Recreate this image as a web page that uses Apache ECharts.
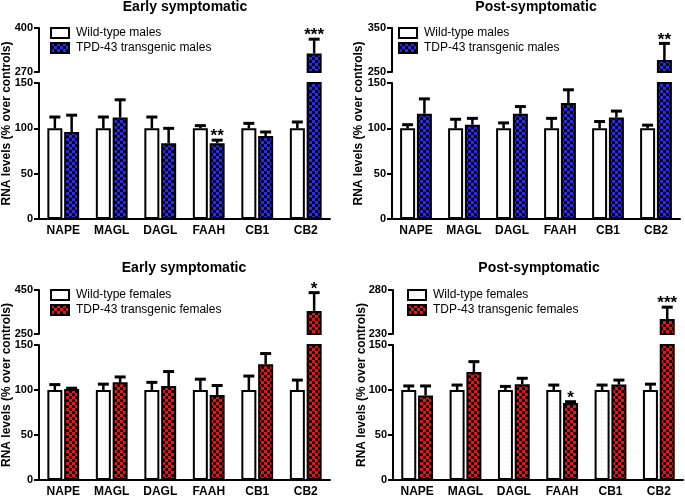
<!DOCTYPE html>
<html>
<head>
<meta charset="utf-8">
<script src="https://cdn.jsdelivr.net/npm/echarts@6/dist/echarts.min.js"></script>
<style>
  html, body { margin: 0; padding: 0; background: #fff; }
  #chart { width: 685px; height: 496px; }
</style>
</head>
<body>
<div id="chart"></div>
<script>
const categories = ['NAPE', 'MAGL', 'DAGL', 'FAAH', 'CB1', 'CB2']

// males, early symptomatic
const maleEarlyWt = [100, 100, 100, 100, 100, 100]
const maleEarlyWtErr = [112.5, 112.5, 112.5, 103, 105.5, 107]
const maleEarlyTg = [96, 112, 83.5, 83.5, 91.5, 325]
const maleEarlyTgErr = [114.5, 131.5, 100, 87, 96, 367]
const maleEarlySig = ['', '', '', '**', '', '***']
const maleEarlyBreak = [270, 400]

// males, post-symptomatic
const malePostWt = [100, 100, 100, 100, 100, 100]
const malePostWtErr = [104, 110, 106, 111, 107.5, 103.5]
const malePostTg = [116, 104, 116, 128, 112, 277]
const malePostTgErr = [132.5, 111, 124, 142.5, 119, 315]
const malePostSig = ['', '', '', '', '', '**']
const malePostBreak = [250, 350]

// females, early symptomatic
const femaleEarlyWt = [100, 100, 100, 100, 100, 100]
const femaleEarlyWtErr = [106, 106.5, 108.5, 112, 115.5, 111]
const femaleEarlyTg = [101, 108.5, 104.5, 94.5, 128.5, 355]
const femaleEarlyTgErr = [102, 114.5, 120.5, 105, 140.5, 438]
const femaleEarlySig = ['', '', '', '', '', '*']
const femaleEarlyBreak = [250, 450]

// females, post-symptomatic
const femalePostWt = [100, 100, 100, 100, 100, 100]
const femalePostWtErr = [104.5, 105.5, 104, 105.5, 105.5, 106.5]
const femalePostTg = [94, 120, 106.5, 85.5, 106, 247]
const femalePostTgErr = [104.5, 131.5, 113, 87, 111, 260.5]
const femalePostSig = ['', '', '', '*', '', '***']
const femalePostBreak = [230, 280]

const lowerRange = [0, 150]
const lowerStep = 50

const FONT = 'Liberation Sans, Arial, Helvetica, sans-serif'
const BAR_W = 15
const BAR_GAP = 0.12
const CAP_W = 11

// 棋盘格填充
function checker (fg, bg, cell) {
  const c = document.createElement('canvas')
  c.width = cell * 2
  c.height = cell * 2
  const ctx = c.getContext('2d')
  ctx.fillStyle = bg
  ctx.fillRect(0, 0, c.width, c.height)
  ctx.fillStyle = fg
  ctx.fillRect(0, 0, cell, cell)
  ctx.fillRect(cell, cell, cell, cell)
  return { image: c, repeat: 'repeat' }
}

function dotted () {
  const c = document.createElement('canvas')
  c.width = 4
  c.height = 4
  const ctx = c.getContext('2d')
  ctx.fillStyle = '#fff'
  ctx.fillRect(0, 0, 4, 4)
  ctx.fillStyle = '#ececec'
  ctx.fillRect(1, 1, 1, 1)
  return { image: c, repeat: 'repeat' }
}

const panels = [
  {
    title: 'Early symptomatic', wtName: 'Wild-type males', tgName: 'TPD-43 transgenic males',
    wt: maleEarlyWt, wtErr: maleEarlyWtErr, tg: maleEarlyTg, tgErr: maleEarlyTgErr, sig: maleEarlySig,
    brk: maleEarlyBreak, fill: checker('#2a2af5', '#000', 3),
    left: 39, right: 330, top: 28, brkY: 72, lowTop: 83, bottom: 219,
    titleX: 185, titleY: 7, nameX: 7, legendLeft: 50
  },
  {
    title: 'Post-symptomatic', wtName: 'Wild-type males', tgName: 'TDP-43 transgenic males',
    wt: malePostWt, wtErr: malePostWtErr, tg: malePostTg, tgErr: malePostTgErr, sig: malePostSig,
    brk: malePostBreak, fill: checker('#2a2af5', '#000', 3),
    left: 392, right: 680, top: 28, brkY: 72, lowTop: 83, bottom: 219,
    titleX: 536, titleY: 7, nameX: 359, legendLeft: 398
  },
  {
    title: 'Early symptomatic', wtName: 'Wild-type females', tgName: 'TDP-43 transgenic females',
    wt: femaleEarlyWt, wtErr: femaleEarlyWtErr, tg: femaleEarlyTg, tgErr: femaleEarlyTgErr, sig: femaleEarlySig,
    brk: femaleEarlyBreak, fill: checker('#f51010', '#000', 3),
    left: 39, right: 330, top: 290, brkY: 334, lowTop: 345, bottom: 480,
    titleX: 184, titleY: 268, nameX: 7, legendLeft: 50
  },
  {
    title: 'Post-symptomatic', wtName: 'Wild-type females', tgName: 'TDP-43 transgenic females',
    wt: femalePostWt, wtErr: femalePostWtErr, tg: femalePostTg, tgErr: femalePostTgErr, sig: femalePostSig,
    brk: femalePostBreak, fill: checker('#f51010', '#000', 3),
    left: 393, right: 683, top: 290, brkY: 334, lowTop: 345, bottom: 480,
    titleX: 539, titleY: 268, nameX: 362, legendLeft: 407
  }
]

const whiteFill = dotted()

// 误差线 + 显著性星号
function errorSeries (g, values, errs, sig, side) {
  return {
    type: 'custom',
    xAxisIndex: g,
    yAxisIndex: g,
    silent: true,
    z: 3,
    data: values.map((v, i) => [i, v, errs[i]]),
    renderItem: (params, api) => {
      const cs = params.coordSys
      const top = api.coord([api.value(0), api.value(1)])
      if (top[1] < cs.y - 0.5 || top[1] > cs.y + cs.height + 0.5) return null
      const err = api.coord([api.value(0), api.value(2)])
      const x = top[0] + side * BAR_W * (1 + BAR_GAP) / 2
      const children = [
        { type: 'line', shape: { x1: x, y1: top[1], x2: x, y2: err[1] }, style: { stroke: '#000', lineWidth: 2.5 } },
        { type: 'line', shape: { x1: x - CAP_W / 2, y1: err[1], x2: x + CAP_W / 2, y2: err[1] }, style: { stroke: '#000', lineWidth: 3 } }
      ]
      const s = sig ? sig[params.dataIndex] : ''
      if (s) {
        children.push({
          type: 'text',
          x: x,
          y: err[1] + 5,
          style: { text: s, fill: '#000', font: 'bold 17px ' + FONT, align: 'center', verticalAlign: 'bottom' }
        })
      }
      return { type: 'group', children }
    }
  }
}

const grid = []
const xAxis = []
const yAxis = []
const series = []
const legend = []
const graphic = []

panels.forEach((p, i) => {
  const up = i * 2
  const low = i * 2 + 1
  const width = p.right - p.left
  grid.push({ left: p.left, top: p.top, width, height: p.brkY - p.top, outerBoundsMode: 'none' })
  grid.push({ left: p.left, top: p.lowTop, width, height: p.bottom - p.lowTop, outerBoundsMode: 'none' })

  xAxis.push({ type: 'category', gridIndex: up, data: categories, show: false })
  xAxis.push({
    type: 'category', gridIndex: low, data: categories,
    axisLine: { lineStyle: { color: '#000', width: 2 } },
    axisTick: { show: false },
    axisLabel: { color: '#000', fontFamily: FONT, fontWeight: 'bold', fontSize: 12, margin: 6 }
  })

  const yCommon = {
    type: 'value',
    axisLine: { show: true, lineStyle: { color: '#000', width: 2 } },
    axisTick: { show: true, length: 5, lineStyle: { color: '#000', width: 2 } },
    axisLabel: { color: '#000', fontFamily: FONT, fontWeight: 'bold', fontSize: 11, margin: 6 },
    splitLine: { show: false }
  }
  yAxis.push(Object.assign({}, yCommon, {
    gridIndex: up, min: p.brk[0], max: p.brk[1],
    axisTick: Object.assign({}, yCommon.axisTick, { customValues: p.brk }),
    axisLabel: Object.assign({}, yCommon.axisLabel, { customValues: p.brk })
  }))
  yAxis.push(Object.assign({}, yCommon, {
    gridIndex: low, min: lowerRange[0], max: lowerRange[1], interval: lowerStep
  }))

  ;[up, low].forEach(g => {
    series.push({
      type: 'bar', name: p.wtName, xAxisIndex: g, yAxisIndex: g, data: p.wt,
      barWidth: BAR_W, barGap: (BAR_GAP * 100) + '%', clip: true, silent: true,
      itemStyle: { color: whiteFill, borderColor: '#000', borderWidth: 2 }
    })
    series.push({
      type: 'bar', name: p.tgName, xAxisIndex: g, yAxisIndex: g, data: p.tg,
      barWidth: BAR_W, barGap: (BAR_GAP * 100) + '%', clip: true, silent: true,
      itemStyle: { color: p.fill, borderColor: '#000', borderWidth: 2 }
    })
    series.push(errorSeries(g, p.wt, p.wtErr, null, -1))
    series.push(errorSeries(g, p.tg, p.tgErr, p.sig, 1))
  })

  legend.push({
    data: [p.wtName, p.tgName],
    orient: 'vertical',
    left: p.legendLeft,
    top: p.top - 1,
    padding: 0,
    itemWidth: 18,
    itemHeight: 10,
    itemGap: 3,
    icon: 'rect',
    selectedMode: false,
    itemStyle: { borderColor: '#000', borderWidth: 2 },
    textStyle: { color: '#000', fontFamily: FONT, fontSize: 12, padding: [0, 0, 0, 2] }
  })

  graphic.push({
    type: 'text', x: p.titleX, y: p.titleY,
    style: { text: p.title, fill: '#000', font: 'bold 14px ' + FONT, align: 'center', verticalAlign: 'middle' }
  })
  graphic.push({
    type: 'text', x: p.nameX, y: (p.top + p.bottom) / 2, rotation: Math.PI / 2,
    style: { text: 'RNA levels (% over controls)', fill: '#000', font: 'bold 12px ' + FONT, align: 'center', verticalAlign: 'middle' }
  })
})

const chart = echarts.init(document.getElementById('chart'), null, { renderer: 'canvas' })
chart.setOption({
  animation: false,
  backgroundColor: '#fff',
  grid, xAxis, yAxis, series, legend, graphic
})
</script>
</body>
</html>
